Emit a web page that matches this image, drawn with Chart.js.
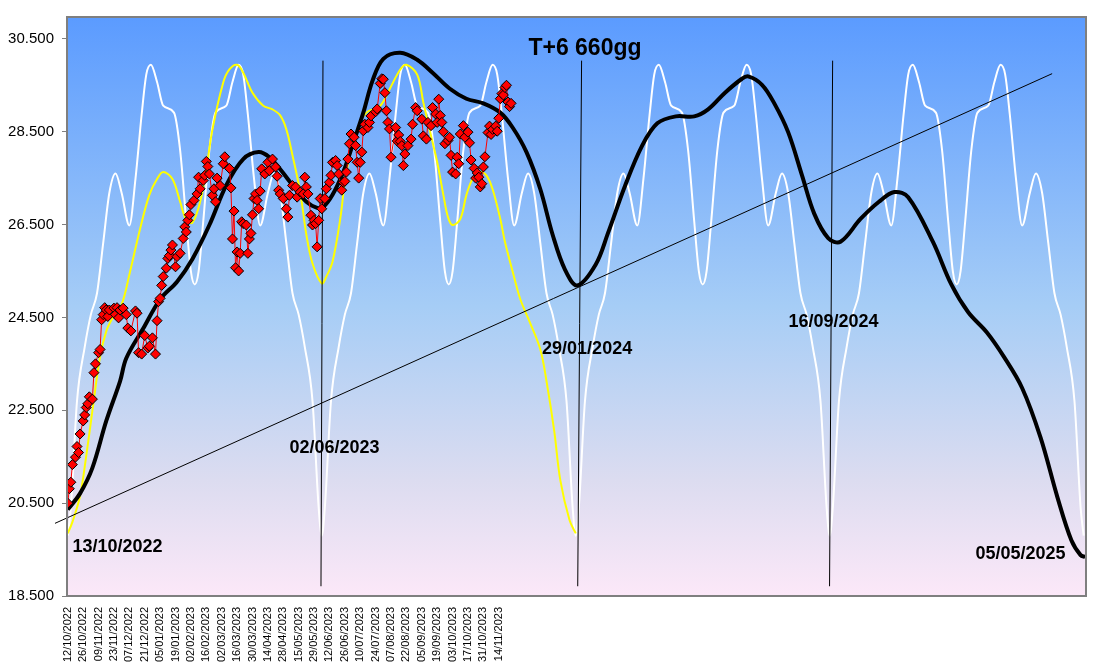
<!DOCTYPE html>
<html>
<head>
<meta charset="utf-8">
<script src="https://cdn.jsdelivr.net/npm/chart.js@4.4.1/dist/chart.umd.min.js"></script>
<style>
  body { margin: 0; background: #ffffff; }
  #cycleChart { display: block; }
</style>
</head>
<body>
<canvas id="cycleChart" width="1097" height="671"></canvas>
<script>
// x = trading day index from 12/10/2022 (660 day window), y = index points
var xTickCats = [0, 10, 20, 30, 40, 50, 60, 70, 80, 90, 100, 110, 120, 130, 140,
  150, 160, 170, 180, 190, 200, 210, 220, 230, 240, 250, 260, 270, 280];
var xTickLabels = ['12/10/2022', '26/10/2022', '09/11/2022', '23/11/2022', '07/12/2022',
  '21/12/2022', '05/01/2023', '19/01/2023', '02/02/2023', '16/02/2023', '02/03/2023',
  '16/03/2023', '30/03/2023', '14/04/2023', '28/04/2023', '15/05/2023', '29/05/2023',
  '12/06/2023', '26/06/2023', '10/07/2023', '24/07/2023', '07/08/2023', '22/08/2023',
  '05/09/2023', '19/09/2023', '03/10/2023', '17/10/2023', '31/10/2023', '14/11/2023'];
var yTickValues = [18500, 20500, 22500, 24500, 26500, 28500, 30500];

// daily closes (red diamonds)
var priceCats = [0, 1, 2, 3, 5, 6, 7, 8, 10, 11, 12, 13, 14, 16, 17, 18, 20, 21, 22, 23,
  24, 25, 26, 27, 30, 31, 32, 33, 34, 36, 38, 39, 41, 44, 45, 46, 48, 50, 52, 53,
  55, 57, 58, 59, 60, 61, 62, 64, 65, 66, 67, 68, 70, 71, 73, 75, 76, 77, 78, 79,
  80, 82, 84, 85, 86, 88, 89, 90, 91, 92, 94, 95, 96, 97, 99, 101, 102, 105, 106, 107,
  108, 109, 110, 111, 112, 113, 114, 116, 117, 118, 119, 120, 121, 122, 123, 124, 125, 126, 128, 130,
  131, 133, 135, 136, 137, 138, 140, 142, 143, 144, 146, 148, 149, 151, 153, 154, 155, 156, 158, 159,
  160, 161, 162, 163, 164, 165, 167, 168, 170, 171, 172, 174, 175, 176, 178, 179, 180, 181, 182, 183,
  184, 186, 187, 188, 189, 190, 191, 192, 193, 195, 196, 197, 200, 201, 203, 204, 205, 206, 207, 208,
  209, 210, 213, 214, 215, 216, 217, 218, 219, 221, 223, 224, 226, 227, 230, 231, 233, 234, 236, 237,
  239, 240, 241, 242, 243, 244, 245, 247, 248, 249, 250, 252, 253, 254, 255, 257, 258, 260, 261, 262,
  264, 265, 266, 267, 268, 269, 270, 271, 273, 274, 275, 276, 278, 279, 280, 281, 282, 283, 284, 285,
  286, 287, 288];
var priceValues = [20500, 20810, 20950, 21330, 21490, 21720, 21590, 21990, 22270, 22400, 22560, 22640, 22790, 22740, 23310, 23500, 23740, 23810, 24450, 24560,
  24710, 24660, 24520, 24660, 24700, 24560, 24710, 24490, 24660, 24700, 24560, 24270, 24210, 24640, 24590, 23740, 23710, 24110, 23840, 23880,
  24060, 23710, 24430, 24840, 24910, 25190, 25380, 25560, 25770, 25830, 25950, 26060, 25590, 25810, 25880, 26200, 26450, 26340, 26590, 26710,
  26930, 27020, 27160, 27520, 27270, 27450, 27560, 27860, 27750, 27590, 27130, 27270, 26990, 27500, 27340, 27810, 27960, 27710, 27290, 26190,
  26790, 25570, 25910, 25500, 25880, 26560, 26520, 26490, 25880, 26190, 26310, 26710, 27060, 27160, 27020, 26840, 27220, 27700, 27590, 27840,
  27660, 27910, 27740, 27540, 27240, 27160, 27060, 26840, 26660, 27130, 27340, 27310, 27090, 27200, 27160, 27520, 27310, 27160, 26700, 26490,
  26590, 26520, 26020, 26590, 27060, 26840, 27060, 27270, 27410, 27560, 27840, 27880, 27770, 27590, 27240, 27410, 27430, 27630, 27910, 28240,
  28450, 28380, 28200, 27840, 27500, 27840, 28060, 28520, 28660, 28590, 28700, 28840, 28930, 28990, 29540, 29640, 29630, 29340, 28950, 28700,
  28560, 27950, 28590, 28300, 28430, 28290, 28200, 27770, 28020, 28200, 28340, 28660, 29020, 28950, 28770, 28410, 28340, 28700, 28630, 29020,
  28880, 28700, 29200, 28850, 28700, 28500, 28240, 28310, 28380, 27990, 27630, 27590, 27950, 27810, 28450, 28630, 28380, 28490, 28260, 27890,
  27710, 27500, 27610, 27520, 27310, 27380, 27740, 27960, 28480, 28620, 28440, 28550, 28620, 28510, 28790, 29210, 29320, 29290, 29450, 29500,
  29140, 29040, 29110];

// thick black projection
var blackCats = [0, 8, 16, 25, 34, 38, 49, 60, 71, 81, 92, 103, 114, 124, 131, 138, 146, 155, 162, 166,
  172, 179, 185, 192, 198, 205, 216, 227, 237, 248, 259, 270, 281, 289, 298, 307, 315, 323, 331, 343,
  351, 362, 373, 383, 395, 407, 416, 427, 438, 442, 451, 459, 468, 477, 485, 494, 502, 515, 527, 537,
  546, 562, 574, 585, 597, 608, 620, 632, 643, 652, 658, 661];
var blackValues = [20360, 20710, 21260, 22270, 23130, 23620, 24260, 24890, 25270, 25760, 26490, 27350, 27910, 28060, 27950, 27690, 27350, 26990, 26860, 26880,
  27140, 27630, 28210, 28910, 29600, 30070, 30200, 30050, 29770, 29430, 29210, 29110, 28910, 28590, 28060, 27260, 26280, 25530, 25190, 25640,
  26320, 27330, 28190, 28680, 28830, 28830, 28980, 29340, 29640, 29690, 29510, 29110, 28490, 27560, 26730, 26210, 26130, 26620, 26990, 27200,
  27090, 26130, 25210, 24610, 24180, 23660, 22980, 21910, 20620, 19700, 19380, 19340];

// yellow cycle
var yellowCats = [0, 3, 8, 12, 16, 21, 25, 29, 35, 40, 47, 53, 58, 62, 68, 73, 77, 81, 86, 90,
  94, 101, 105, 110, 114, 120, 127, 133, 138, 142, 146, 151, 155, 159, 165, 168, 172, 177, 181, 188,
  194, 203, 209, 216, 220, 227, 231, 235, 240, 244, 247, 250, 255, 259, 263, 268, 272, 276, 281, 284,
  289, 294, 300, 307, 311, 316, 320, 326, 330];
var yellowValues = [19850, 20090, 20660, 21520, 22490, 23660, 24200, 24480, 24780, 25420, 26410, 27140, 27480, 27630, 27480, 26990, 26600, 26540, 26990, 27690,
  28550, 29560, 29840, 29940, 29770, 29340, 29060, 28980, 28850, 28550, 27990, 27200, 26280, 25660, 25230, 25380, 25700, 26620, 27630, 28550,
  28910, 29060, 29410, 29840, 29940, 29730, 29130, 28550, 27840, 27140, 26660, 26490, 26620, 27140, 27480, 27630, 27560, 27260, 26620, 26130,
  25490, 24890, 24410, 23810, 23130, 22060, 20990, 20130, 19850];

var whiteCycleStarts = [0, 165, 330, 495];
var whiteShapeCats = [0, 2, 6, 11, 15, 19, 23, 27, 31, 35, 40, 44, 48, 51, 54, 58, 62, 69, 73, 77,
  80, 82.5, 85, 88, 92, 96, 103, 107, 111, 114, 117, 121, 125, 130, 134, 138, 142, 146, 150, 154,
  159, 163, 165];
var whiteShapeValues = [19800, 20400, 22700, 23860, 24560, 25020, 26100, 27180, 27600, 27180, 26480, 27490, 28870, 29730, 29940, 29570, 29060, 28910, 28100, 26560,
  25490, 25210, 25490, 26560, 28100, 28910, 29060, 29570, 29940, 29730, 28870, 27490, 26480, 27180, 27600, 27180, 26100, 25020, 24560, 23860,
  22700, 20400, 19800];

// thin trend line
var trendCats = [-8.3, 639.5];
var trendValues = [20065, 29750];

// turning-date markers (vertical lines)
var markerTopCats = [165.8, 333.8, 496.9];
var markerBottomCats = [164.5, 331.3, 494.9];
var markerTopValue = 30030;
var markerBottomValue = 18710;

// labels written inside the plot
var noteTexts = ['13/10/2022', '02/06/2023', '29/01/2024', '16/09/2024', '05/05/2025'];
var noteCats = [32.3, 173.3, 337.4, 497.5, 619];
var noteValues = [19549, 21692, 23814, 24393, 19399];
var titleText = 'T+6 660gg';
var titleCat = 336;
var titleValue = 30286;

function pairs(xs, ys) {
  return xs.map(function (x, i) { return { x: x, y: ys[i] }; });
}

function fmt(v) {
  return (v / 1000).toFixed(3);
}

var whitePoints = [];
whiteCycleStarts.forEach(function (start, c) {
  whiteShapeCats.forEach(function (off, i) {
    if (c > 0 && i === 0) return;
    whitePoints.push({ x: start + off, y: whiteShapeValues[i] });
  });
});

var markerSets = markerTopCats.map(function (top, i) {
  return {
    label: 'marker' + i,
    data: [{ x: markerBottomCats[i], y: markerBottomValue }, { x: top, y: markerTopValue }],
    borderColor: '#000000',
    borderWidth: 1,
    pointRadius: 0,
    tension: 0
  };
});

var plotDecor = {
  id: 'plotDecor',
  beforeDraw: function (chart) {
    var ctx = chart.ctx, a = chart.chartArea;
    ctx.save();
    ctx.fillStyle = '#ffffff';
    ctx.fillRect(0, 0, chart.width, chart.height);
    var g = ctx.createLinearGradient(0, a.top, 0, a.bottom);
    g.addColorStop(0, '#5b9bff');
    g.addColorStop(0.5, '#a6cdf6');
    g.addColorStop(0.8, '#dcdcf0');
    g.addColorStop(1, '#fce8f8');
    ctx.fillStyle = g;
    ctx.fillRect(a.left, a.top, a.right - a.left, a.bottom - a.top);
    ctx.restore();
  },
  afterDatasetsDraw: function (chart) {
    var ctx = chart.ctx, xs = chart.scales.x, ys = chart.scales.y;
    ctx.save();
    ctx.fillStyle = '#000000';
    ctx.textAlign = 'center';
    ctx.textBaseline = 'middle';
    ctx.font = 'bold 18px "Liberation Sans", Arial, sans-serif';
    noteTexts.forEach(function (t, i) {
      ctx.fillText(t, xs.getPixelForValue(noteCats[i]), ys.getPixelForValue(noteValues[i]));
    });
    ctx.font = 'bold 23px "Liberation Sans", Arial, sans-serif';
    ctx.fillText(titleText, xs.getPixelForValue(titleCat), ys.getPixelForValue(titleValue));
    ctx.restore();
  },
  afterDraw: function (chart) {
    var ctx = chart.ctx, a = chart.chartArea;
    ctx.save();
    ctx.strokeStyle = '#7f7f7f';
    ctx.lineWidth = 2;
    ctx.strokeRect(a.left, a.top, a.right - a.left, a.bottom - a.top);
    ctx.restore();
  }
};

Chart.defaults.font.family = '"Liberation Sans", Arial, sans-serif';
Chart.defaults.color = '#000000';

var ctx = document.getElementById('cycleChart').getContext('2d');
var cycleChart = new Chart(ctx, {
  type: 'line',
  data: {
    datasets: [
      {
        label: 'FTSE MIB',
        data: pairs(priceCats, priceValues),
        borderColor: '#ff0000',
        borderWidth: 1,
        pointStyle: 'rectRot',
        pointRadius: 5,
        pointBackgroundColor: '#ff0000',
        pointBorderColor: '#000000',
        pointBorderWidth: 1,
        tension: 0
      },
      {
        label: 'proiezione',
        data: pairs(blackCats, blackValues),
        borderColor: '#000000',
        borderWidth: 4,
        pointRadius: 0,
        tension: 0.35
      },
      {
        label: 'trend',
        data: pairs(trendCats, trendValues),
        borderColor: '#000000',
        borderWidth: 1,
        pointRadius: 0,
        clip: false,
        tension: 0
      }
    ].concat(markerSets).concat([
      {
        label: 'ciclo giallo',
        data: pairs(yellowCats, yellowValues),
        borderColor: '#ffff00',
        borderWidth: 2,
        pointRadius: 0,
        tension: 0.35
      },
      {
        label: 'ciclo bianco',
        data: whitePoints,
        borderColor: '#ffffff',
        borderWidth: 2,
        pointRadius: 0,
        cubicInterpolationMode: 'monotone'
      }
    ])
  },
  options: {
    responsive: false,
    animation: false,
    events: [],
    layout: { padding: { left: 0, top: 14, right: 11, bottom: 0 } },
    plugins: {
      legend: { display: false },
      tooltip: { enabled: false },
      title: { display: false }
    },
    scales: {
      x: {
        type: 'linear',
        min: -0.5,
        max: 661.5,
        grid: { display: false },
        border: { display: false },
        afterBuildTicks: function (axis) {
          axis.ticks = xTickCats.map(function (v) { return { value: v }; });
        },
        afterFit: function (axis) { axis.height = 75; },
        ticks: {
          autoSkip: false,
          minRotation: 90,
          maxRotation: 90,
          padding: 3,
          font: { size: 11 },
          color: '#000000',
          callback: function (value, index) { return xTickLabels[index]; }
        }
      },
      y: {
        min: 18500,
        max: 30970,
        grid: {
          drawOnChartArea: false,
          drawTicks: true,
          tickLength: 5,
          color: '#7f7f7f',
          lineWidth: 1
        },
        border: { display: false },
        afterBuildTicks: function (axis) {
          axis.ticks = yTickValues.map(function (v) { return { value: v }; });
        },
        afterFit: function (axis) { axis.width = 67; },
        ticks: {
          padding: 8,
          font: { size: 15 },
          color: '#000000',
          callback: function (value) { return fmt(value); }
        }
      }
    }
  },
  plugins: [plotDecor]
});
</script>
</body>
</html>
